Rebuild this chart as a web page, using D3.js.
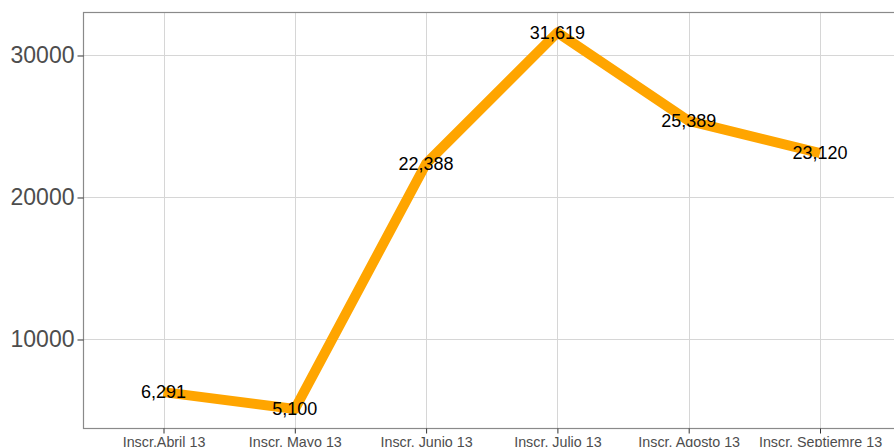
<!DOCTYPE html>
<html><head><meta charset="utf-8">
<script src="https://cdn.jsdelivr.net/npm/d3@7"></script>
<style>body{margin:0;background:#fff}svg{display:block}</style>
</head><body>
<script>
const categories = ["Inscr.Abril 13","Inscr. Mayo 13","Inscr. Junio 13","Inscr. Julio 13","Inscr. Agosto 13","Inscr. Septiemre 13"];
const values = [6291, 5100, 22388, 31619, 25389, 23120];
const yTicks = [10000, 20000, 30000];

const W = 894, H = 447;
const panel = {left: 83.5, top: 12.5, right: 899, bottom: 428.5};
const svg = d3.select("body").append("svg").attr("width", W).attr("height", H);

const x = d3.scalePoint().domain(categories).range([163.5, 820]);
const y = d3.scaleLinear().domain([3732, 33028]).range([panel.bottom, panel.top]);

const g = svg.append("g");
// gridlines
g.selectAll(".gy").data(yTicks).join("line")
  .attr("x1", panel.left).attr("x2", panel.right)
  .attr("y1", d => Math.round(y(d)) + 0.5).attr("y2", d => Math.round(y(d)) + 0.5)
  .attr("stroke", "#d6d6d6").attr("stroke-width", 1);
g.selectAll(".gx").data(categories).join("line")
  .attr("x1", d => Math.round(x(d)) + 0.5).attr("x2", d => Math.round(x(d)) + 0.5)
  .attr("y1", panel.top).attr("y2", panel.bottom)
  .attr("stroke", "#d6d6d6").attr("stroke-width", 1);

// border
g.append("rect").attr("x", panel.left).attr("y", panel.top)
  .attr("width", panel.right - panel.left).attr("height", panel.bottom - panel.top)
  .attr("fill", "none").attr("stroke", "#8a8a8a").attr("stroke-width", 1.2);

// axes
const ya = d3.axisLeft(y).tickValues(yTicks).tickSize(6).tickPadding(3).tickFormat(d3.format("d"));
const yg = svg.append("g").attr("transform", `translate(${panel.left},0)`).call(ya);
yg.select(".domain").remove();
yg.selectAll(".tick line").attr("stroke", "#333");
yg.selectAll("text").attr("fill", "#4d4d4d").style("font-family", "Liberation Sans, Arial, sans-serif").style("font-size", "23px");

const xa = d3.axisBottom(x).tickSize(5).tickPadding(3);
const xg = svg.append("g").attr("transform", `translate(0,${panel.bottom})`).call(xa);
xg.select(".domain").remove();
xg.selectAll(".tick line").attr("stroke", "#333");
xg.selectAll("text").attr("fill", "#4d4d4d").style("font-family", "Liberation Sans, Arial, sans-serif").style("font-size", "14.3px");

// line
const line = d3.line().x((d, i) => x(categories[i])).y(d => y(d));
svg.append("path").datum(values).attr("d", line)
  .attr("fill", "none").attr("stroke", "#FFA500").attr("stroke-width", 10)
  .attr("stroke-linejoin", "round");

// labels
svg.selectAll(".lbl").data(values).join("text")
  .attr("x", (d, i) => x(categories[i])).attr("y", d => y(d))
  .attr("text-anchor", "middle").attr("dominant-baseline", "central")
  .style("font-family", "Liberation Sans, Arial, sans-serif").style("font-size", "18px")
  .attr("fill", "#000").text(d => d3.format(",")(d));
</script>
</body></html>
